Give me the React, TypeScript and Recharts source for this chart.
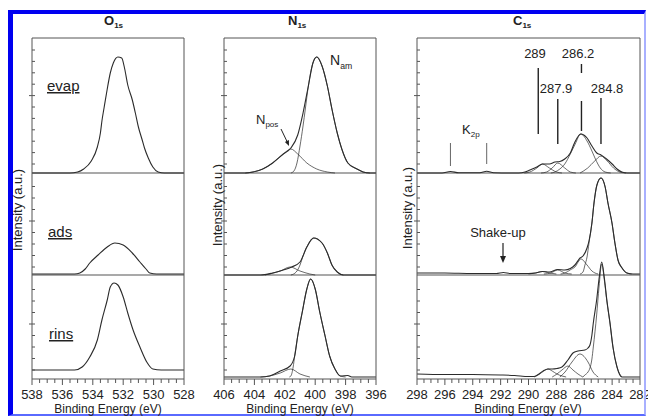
import React from 'react';
import { LineChart, Line, XAxis, YAxis, ReferenceLine } from 'recharts';

type Pt = [number, number];

// ---------- O 1s : [binding energy (eV), intensity (a.u.)] ----------
const O1S_EVAP: Pt[] = [[538,0],[535.5,0],[535.0,1],[534.6,4],[534.1,12],[533.7,26],[533.5,40],[533.4,52],[533.25,66],[533.05,84],[532.85,100],[532.65,110],[532.35,116],[532.1,115],[531.9,104],[531.7,88],[531.4,73],[531.2,60],[531.0,46],[530.75,33],[530.6,25],[530.35,15],[530.05,6],[529.7,1],[529.3,0],[528,0]];
const O1S_ADS: Pt[] = [[538,0],[535.2,0],[534.85,1],[534.5,5],[534.2,11],[533.65,19],[533.05,27],[532.55,31],[532.0,29],[531.4,21],[530.9,12],[530.5,5],[530.25,1],[529.8,0],[528,0]];
const O1S_RINS: Pt[] = [[538,0],[535.2,0],[534.7,3],[534.2,13],[533.7,30],[533.4,50],[533.05,70],[532.85,83],[532.6,87],[532.35,85],[532.0,73],[531.7,57],[531.35,40],[530.9,23],[530.45,8],[530.05,1],[529.5,0],[528,0]];

// ---------- N 1s ----------
const N1S_EVAP_TOT: Pt[] = [[406,0],[404.6,0],[404.1,1],[403.45,4],[402.8,10],[402.1,19],[401.6,25],[401.15,38],[400.8,60],[400.45,87],[400.15,110],[399.9,116],[399.55,107],[399.2,87],[398.9,64],[398.55,40],[398.25,24],[397.85,10],[397.25,4],[396.85,1],[396.4,0],[396,0]];
const N1S_EVAP_AM: Pt[] = [[401.6,0],[401.4,2],[401.2,10],[401.0,27],[400.8,47],[400.65,64],[400.45,87],[400.15,110],[399.9,116],[399.55,107],[399.2,87],[398.9,64],[398.55,40],[398.25,24],[397.85,10],[397.25,4],[396.85,1],[396.4,0]];
const N1S_EVAP_POS: Pt[] = [[404.6,0],[404.1,1],[403.45,4],[402.8,10],[402.1,19],[401.6,24],[401.15,19],[400.55,10],[399.9,4],[399.2,1],[398.7,0]];
const N1S_ADS_TOT: Pt[] = [[406,0],[403.6,0],[402.8,2],[402.1,5],[401.55,8],[401.0,13],[400.55,28],[400.1,37],[399.55,32],[399.2,22],[398.9,10],[398.55,3],[398.15,0],[396,0]];
const N1S_ADS_AM: Pt[] = [[401.6,0],[401.25,3],[401.0,10],[400.8,19],[400.55,28],[400.1,37],[399.55,32],[399.2,22],[398.9,10],[398.55,3],[398.15,0]];
const N1S_ADS_POS: Pt[] = [[403.3,0],[403.0,1],[402.3,4],[401.65,8],[401.0,4],[400.35,1],[400.0,0]];
const N1S_RINS_TOT: Pt[] = [[406,0],[403.6,0],[403.0,1],[402.3,6],[401.65,11],[401.35,21],[401.15,41],[400.85,65],[400.55,88],[400.3,98],[400.0,88],[399.7,65],[399.35,41],[399.05,21],[398.7,8],[398.35,1],[397.85,1.5],[397.6,0],[396,0]];
const N1S_RINS_AM: Pt[] = [[401.7,0],[401.6,1],[401.45,10],[401.35,21],[401.15,41],[400.85,65],[400.55,88],[400.3,98],[400.0,88],[399.7,65],[399.35,41],[399.05,21],[398.7,8],[398.35,1],[398.0,0]];
const N1S_RINS_POS: Pt[] = [[403.6,0],[403.0,1],[402.3,4],[401.6,8],[401.0,3],[400.35,0]];

// ---------- C 1s ----------
const C1S_EVAP_TOT: Pt[] = [[298,0],[296.2,0],[295.6,1.5],[295.0,0.3],[293.5,0.3],[293.0,1.8],[292.5,0.3],[291,0],[290.7,0],[290.25,1],[289.9,3],[289.4,6],[289.0,9],[288.5,9],[288.1,11],[287.75,11.5],[287.4,14],[287.0,20],[286.7,30],[286.25,39],[285.8,35],[285.45,27],[285.1,20],[284.8,18],[284.4,14],[284.0,9],[283.65,4],[283.3,1],[282.9,0],[282,0]];
const C1S_EVAP_848: Pt[] = [[286.3,0],[285.75,5],[285.25,12],[284.8,17],[284.35,12],[283.9,5],[283.45,1],[283.0,0]];
const C1S_EVAP_862: Pt[] = [[288.4,0],[288.1,1],[287.75,4],[287.4,9],[287.0,19],[286.65,29],[286.25,39],[285.8,32],[285.45,22],[285.2,14],[284.85,5],[284.5,1],[284.1,0]];
const C1S_EVAP_879: Pt[] = [[289.1,0],[288.7,1],[288.3,5],[287.9,10],[287.4,5],[287.0,1],[286.6,0]];
const C1S_EVAP_89: Pt[] = [[290.3,0],[289.9,1],[289.4,5],[289.0,9],[288.5,5],[288.0,1],[287.6,0]];
const C1S_ADS_TOT: Pt[] = [[298,1],[296,1],[294,0.5],[292.3,0.5],[291.8,1.5],[291.3,0.5],[290,0.5],[289.5,1],[289.0,2.5],[288.5,2],[287.9,4.5],[287.4,4],[287.0,5.5],[286.67,9],[286.3,16],[286.09,18],[285.8,26],[285.66,33],[285.45,51],[285.3,71],[285.09,89],[284.8,96],[284.5,87],[284.3,71],[284.01,51],[283.8,31],[283.58,14],[283.29,6],[282.94,1],[282.5,0],[282,0]];
const C1S_ADS_848: Pt[] = [[286.3,0],[286.09,2],[285.95,9],[285.8,17],[285.66,31],[285.45,51],[285.3,71],[285.09,89],[284.8,96],[284.5,87],[284.3,71],[284.01,51],[283.8,31],[283.58,14],[283.29,6],[282.94,1],[282.6,0]];
const C1S_ADS_862: Pt[] = [[287.7,0],[287.38,1],[287.02,4],[286.67,7],[286.24,15],[285.8,9],[285.45,3],[285.23,1],[285.0,0]];
const C1S_ADS_879: Pt[] = [[288.9,0],[288.4,1],[287.9,4],[287.4,1],[286.9,0]];
const C1S_ADS_89: Pt[] = [[290.0,0],[289.5,1],[289.0,2.5],[288.5,1],[288.0,0]];
const C1S_RINS_TOT: Pt[] = [[298,3],[296,2.5],[294,2.5],[292,2],[291,1.5],[290,0.5],[289.6,0.5],[289.2,3.5],[288.9,6.5],[288.6,8],[288.3,8],[287.96,8.5],[287.6,10],[287.17,17],[286.81,24],[286.45,26],[285.95,27],[285.73,29],[285.59,32],[285.45,42],[285.35,54],[285.11,77],[284.94,98],[284.75,115],[284.55,98],[284.38,77],[284.15,54],[283.94,30],[283.65,10],[283.3,0],[282,0]];
const C1S_RINS_848: Pt[] = [[286.1,0],[285.95,2],[285.73,5],[285.59,9],[285.45,18],[285.35,30],[285.11,62],[284.94,90],[284.75,113],[284.55,96],[284.38,76],[284.15,53],[283.94,30],[283.65,10],[283.3,0]];
const C1S_RINS_862: Pt[] = [[287.75,0],[287.38,5],[286.88,15],[286.31,23],[285.73,15],[285.37,5],[285.0,0]];
const C1S_RINS_879: Pt[] = [[288.3,0],[287.96,3],[287.6,7],[287.17,11],[286.81,7],[286.45,3],[286.1,0]];
const C1S_RINS_89: Pt[] = [[289.6,0],[289.2,3],[288.9,6],[288.6,8],[288.3,6],[287.96,3],[287.6,1],[287.3,0]];

// C 1s peak-position markers: [energy, lower, upper] (intensity units of the stacked scale)
const C1S_MARKS: [number, number, number][] = [[289.3,245,311],[287.9,235,280],[286.2,306,315],[286.2,248,278],[284.8,235,281]];
const K2P_MARKS: [number, number, number][] = [[295.6,213,236],[293.0,215,236]];

// Axis tick labels
const O_MAJOR = [538, 536, 534, 532, 530, 528];
const N_MAJOR = [406, 404, 402, 400, 398, 396];
const C_MAJOR = [298, 296, 294, 292, 290, 288, 286, 284, 282];

// stacked layout (spectra offsets)
const W = 648, H = 418;
const PLOT_TOP = 38, PLOT_BOTTOM = 379;
const Y_MAX = PLOT_BOTTOM - PLOT_TOP;
const DIV_EVAP = 206, DIV_ADS = 104;
const AX = 1; // axis thickness reserved by recharts

const FONT = '"Liberation Sans", Arial, Helvetica, sans-serif';
const INK = '#2b2b2b';
const FRAME = '#555';

function minorTicks(majors: number[]): number[] {
  const lo = Math.min(...majors), hi = Math.max(...majors);
  const out: number[] = [];
  for (let v = lo; v <= hi + 1e-9; v += 0.5) out.push(Math.round(v * 10) / 10);
  return out;
}
function panelTicks(start: number, step: number, n: number): number[] {
  return Array.from({ length: n }, (_, k) => start + k * step);
}
const Y_TICKS = [...panelTicks(9, 11.5, 8), ...panelTicks(112, 11.5, 8), ...panelTicks(215, 11.4, 11)];
const Y_MAJOR = [9 + 4 * 11.5, 112 + 4 * 11.5, 215 + 6 * 11.4];

const rows = (pts: Pt[], off: number) => pts.map(([e, i]) => ({ e, v: i + off }));

type Curve = { pts: Pt[]; off: number; w: number };
type Col = { left: number; right: number; domain: [number, number]; majors: number[]; curves: Curve[]; marks?: [number, number, number][]; kmarks?: [number, number, number][] };

const TOT = 1.1, COMP = 0.7;

const COLS: Col[] = [
  { left: 32, right: 184, domain: [528, 538], majors: O_MAJOR, curves: [
    { pts: O1S_EVAP, off: 206, w: TOT }, { pts: O1S_ADS, off: 105, w: TOT }, { pts: O1S_RINS, off: 9, w: TOT },
  ] },
  { left: 224, right: 376, domain: [396, 406], majors: N_MAJOR, curves: [
    { pts: N1S_EVAP_AM, off: 206, w: COMP }, { pts: N1S_EVAP_POS, off: 206, w: COMP }, { pts: N1S_EVAP_TOT, off: 206, w: TOT },
    { pts: N1S_ADS_AM, off: 104, w: COMP }, { pts: N1S_ADS_POS, off: 104, w: COMP }, { pts: N1S_ADS_TOT, off: 104, w: TOT },
    { pts: N1S_RINS_AM, off: 2, w: COMP }, { pts: N1S_RINS_POS, off: 2, w: COMP }, { pts: N1S_RINS_TOT, off: 2, w: TOT },
  ] },
  { left: 417, right: 640, domain: [282, 298], majors: C_MAJOR, marks: C1S_MARKS, kmarks: K2P_MARKS, curves: [
    { pts: C1S_EVAP_848, off: 206, w: COMP }, { pts: C1S_EVAP_862, off: 206, w: COMP }, { pts: C1S_EVAP_879, off: 206, w: COMP }, { pts: C1S_EVAP_89, off: 206, w: COMP }, { pts: C1S_EVAP_TOT, off: 206, w: TOT },
    { pts: C1S_ADS_848, off: 105, w: COMP }, { pts: C1S_ADS_862, off: 105, w: COMP }, { pts: C1S_ADS_879, off: 105, w: COMP }, { pts: C1S_ADS_89, off: 105, w: COMP }, { pts: C1S_ADS_TOT, off: 105, w: TOT },
    { pts: C1S_RINS_848, off: 2, w: COMP }, { pts: C1S_RINS_862, off: 2, w: COMP }, { pts: C1S_RINS_879, off: 2, w: COMP }, { pts: C1S_RINS_89, off: 2, w: COMP }, { pts: C1S_RINS_TOT, off: 2, w: TOT },
  ] },
];

function XTick(props: any) {
  const { x, y, payload, majors } = props;
  const v = payload.value;
  const major = majors.some((m: number) => Math.abs(m - v) < 1e-6);
  return (
    <g>
      <line x1={x} x2={x} y1={y} y2={y + (major ? 6 : 4)} stroke={FRAME} strokeWidth={1} />
      {major && (
        <text x={x} y={y + 20} textAnchor="middle" fontFamily={FONT} fontSize={13} fill="#222">{v}</text>
      )}
    </g>
  );
}

function YTick(props: any) {
  const { x, y, payload, side } = props;
  const major = Y_MAJOR.some((m) => Math.abs(m - payload.value) < 1e-6);
  const d = side === 'l' ? 1 : -1;
  const x1 = major ? x - 3 * d : x;
  const x2 = x + 3 * d;
  return <line x1={x1} x2={x2} y1={y} y2={y} stroke={FRAME} strokeWidth={1} />;
}

function Column({ col }: { col: Col }) {
  const xTicks = minorTicks(col.majors);
  return (
    <div style={{ position: 'absolute', left: 0, top: 0 }}>
      <LineChart width={W} height={H} margin={{ top: PLOT_TOP, bottom: H - PLOT_BOTTOM - AX, left: col.left - AX, right: W - col.right - AX }}>
        <XAxis dataKey="e" type="number" domain={col.domain} reversed ticks={xTicks} interval={0}
          tickLine={false} tickSize={0} tickMargin={0} height={AX} axisLine={{ stroke: FRAME }}
          tick={(p: any) => <XTick {...p} majors={col.majors} />} />
        <YAxis yAxisId="l" orientation="left" type="number" domain={[0, Y_MAX]} ticks={Y_TICKS} interval={0}
          width={AX} tickLine={false} tickSize={0} tickMargin={0} axisLine={{ stroke: FRAME }}
          tick={(p: any) => <YTick {...p} side="l" />} />
        <YAxis yAxisId="r" orientation="right" type="number" domain={[0, Y_MAX]} ticks={Y_TICKS} interval={0}
          width={AX} tickLine={false} tickSize={0} tickMargin={0} axisLine={{ stroke: FRAME }}
          tick={(p: any) => <YTick {...p} side="r" />} />
        <ReferenceLine yAxisId="l" y={Y_MAX} stroke={FRAME} strokeWidth={1} />
        <ReferenceLine yAxisId="l" y={DIV_EVAP} stroke={FRAME} strokeWidth={1.2} />
        <ReferenceLine yAxisId="l" y={DIV_ADS} stroke={FRAME} strokeWidth={1.2} />
        {col.curves.map((c, i) => (
          <Line key={i} yAxisId="l" data={rows(c.pts, c.off)} dataKey="v" type="monotone" dot={false} activeDot={false}
            stroke={INK} strokeWidth={c.w} isAnimationActive={false} />
        ))}
        {(col.marks || []).map(([e, a, b], i) => (
          <ReferenceLine key={'m' + i} yAxisId="l" segment={[{ x: e, y: a }, { x: e, y: b }]} stroke="#222" strokeWidth={1.4} ifOverflow="visible" />
        ))}
        {(col.kmarks || []).map(([e, a, b], i) => (
          <ReferenceLine key={'k' + i} yAxisId="l" segment={[{ x: e, y: a }, { x: e, y: b }]} stroke="#555" strokeWidth={0.9} ifOverflow="visible" />
        ))}
      </LineChart>
    </div>
  );
}

function Sub({ x, y, main, sub, size = 13, bold = false }: { x: number; y: number; main: string; sub: string; size?: number; bold?: boolean }) {
  return (
    <text x={x} y={y} fontSize={size} fontWeight={bold ? 'bold' : 'normal'} fill="#222">
      {main}<tspan fontSize={size * 0.62} dy={size * 0.25}>{sub}</tspan>
    </text>
  );
}

export default function App() {
  return (
    <div style={{ position: 'absolute', left: 0, top: 0, width: W, height: H, overflow: 'hidden', background: '#fff', fontFamily: FONT }}>
      {COLS.map((c, i) => <Column key={i} col={c} />)}
      {/* blue page frame */}
      <div style={{ position: 'absolute', left: 8, top: 10, width: 638, height: 406, boxSizing: 'border-box', borderTop: '4px solid #0000f0', borderLeft: '5px solid #0000f0', borderRight: '2px solid #a8b0ff', borderBottom: '2px solid #5a6aff' }} />
      <svg width={W} height={H} style={{ position: 'absolute', left: 0, top: 0 }} fontFamily={FONT}>
        {/* panel titles */}
        <Sub x={104} y={25} main="O" sub="1s" bold />
        <Sub x={288} y={25} main="N" sub="1s" bold />
        <Sub x={513} y={25} main="C" sub="1s" bold />
        {/* y titles */}
        {[[22, 210], [222, 205], [412, 208]].map(([x, y], i) => (
          <text key={i} transform={`translate(${x},${y}) rotate(-90)`} textAnchor="middle" fontSize={13} fill="#222">Intensity (a.u.)</text>
        ))}
        {/* x titles */}
        {[108, 300, 528].map((x, i) => (
          <text key={i} x={x} y={413} textAnchor="middle" fontSize={12} fill="#222">Binding Energy (eV)</text>
        ))}
        {/* sample labels */}
        <text x={47} y={91} fontSize={15} fill="#222" textDecoration="underline">evap</text>
        <text x={48} y={237} fontSize={15} fill="#222" textDecoration="underline">ads</text>
        <text x={49} y={339} fontSize={15} fill="#222" textDecoration="underline">rins</text>
        {/* N1s labels */}
        <Sub x={330} y={65} main="N" sub="am" size={14} />
        <Sub x={256} y={124} main="N" sub="pos" size={13} />
        <line x1={281} y1={129} x2={287.5} y2={142.5} stroke="#222" strokeWidth={1} />
        <polygon points="289,146 284.9,141.9 288.9,140.1" fill="#222" />
        {/* C1s labels */}
        <text x={535} y={58} textAnchor="middle" fontSize={13} fill="#222">289</text>
        <text x={578} y={58} textAnchor="middle" fontSize={13} fill="#222">286.2</text>
        <text x={556} y={93} textAnchor="middle" fontSize={13} fill="#222">287.9</text>
        <text x={607} y={93} textAnchor="middle" fontSize={13} fill="#222">284.8</text>
        <Sub x={462} y={134} main="K" sub="2p" size={13} />
        <text x={498} y={237} textAnchor="middle" fontSize={13} fill="#222">Shake-up</text>
        <line x1={503} y1={243} x2={503} y2={257} stroke="#222" strokeWidth={1.2} />
        <polygon points="500,256 506,256 503,263" fill="#222" />
      </svg>
    </div>
  );
}
